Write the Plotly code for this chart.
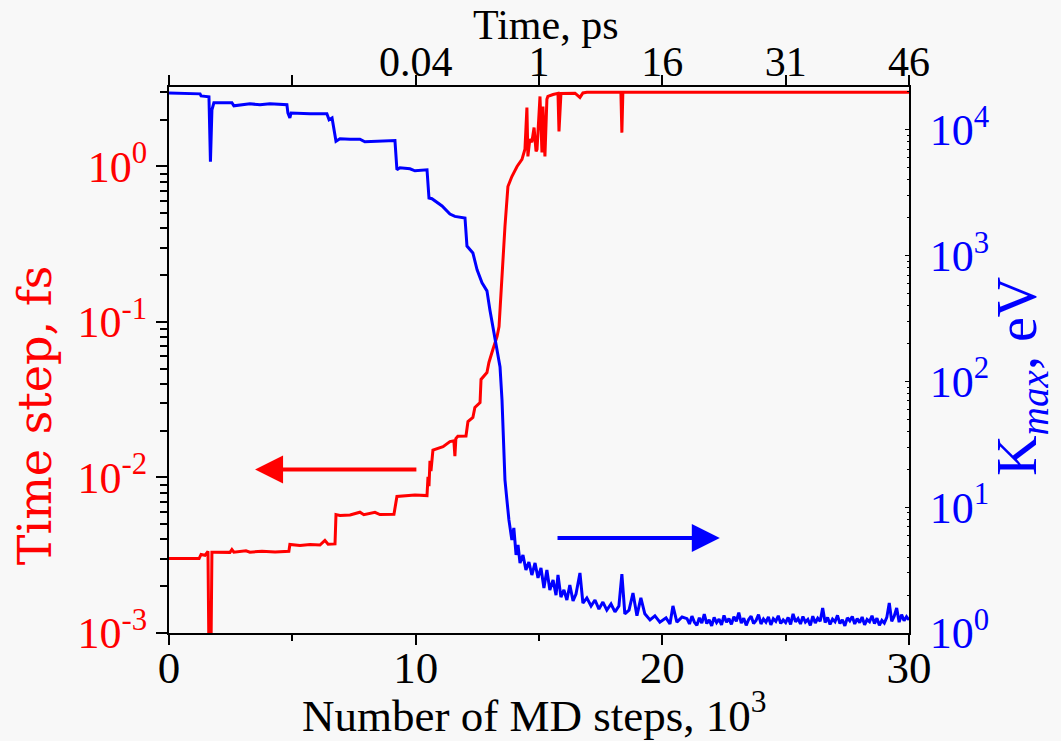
import plotly.graph_objects as go
import math

# ---- data (steps in thousands) ----
red_x = [0, 1.22, 1.30, 1.46, 1.58, 1.62, 1.70, 1.74, 1.82, 2.47, 2.55, 2.63, 3.12, 3.28, 3.77, 4.30,
         4.86, 4.90, 5.31, 5.72, 6.12, 6.32, 6.45, 6.73, 6.77, 6.93, 7.34, 7.74, 7.90, 8.35, 8.55, 9.12,
         9.24, 9.57, 9.97, 10.46, 10.50, 10.54, 10.58, 10.62, 10.70, 11.11, 11.39, 11.55, 11.59, 11.63,
         11.71, 12.04, 12.12, 12.32, 12.40, 12.61, 12.65, 12.89, 12.97, 13.13, 13.30, 13.38, 13.46, 13.54,
         13.62, 13.74, 13.90, 14.11, 14.31, 14.43, 14.51, 14.55, 14.63, 14.71, 14.80, 14.88, 14.92, 15.04,
         15.12, 15.16, 15.24, 15.32, 15.36, 15.57, 15.77, 15.81, 15.89, 16.46, 16.66, 16.78, 16.94, 18.32,
         18.36, 18.40, 30.0]
red_dt = [0.00301, 0.00301, 0.00320, 0.00316, 0.00335, 0.0007, 0.0007, 0.00331, 0.00331, 0.00330, 0.00344, 0.00331, 0.00338, 0.00331, 0.00336, 0.00332,
          0.00335, 0.00371, 0.00366, 0.00371, 0.00368, 0.00394, 0.00372, 0.00374, 0.00578, 0.00570, 0.00574, 0.00598, 0.00576, 0.00597, 0.00578, 0.00580,
          0.00755, 0.00762, 0.00772, 0.00765, 0.0101, 0.0088, 0.0128, 0.0110, 0.0150, 0.0158, 0.0170, 0.0172, 0.0137, 0.0178,
          0.0184, 0.0185, 0.0229, 0.0243, 0.0282, 0.0303, 0.0427, 0.0473, 0.0549, 0.0665, 0.0807, 0.0935, 0.155, 0.228,
          0.411, 0.743, 0.862, 1.0, 1.11, 1.29, 2.39, 1.16, 1.50, 1.43, 1.78, 1.25, 1.29, 2.82,
          1.23, 2.43, 1.16, 2.70, 2.82, 2.90, 2.95, 1.68, 2.95, 2.96, 2.78, 2.97, 3.0, 3.0,
          1.65, 3.0, 3.0]

blue_x = [0, 1.26, 1.30, 1.62, 1.68, 1.74, 1.82, 2.55, 2.63, 2.88, 3.28, 3.69, 4.09, 4.78, 4.82, 4.90,
          4.95, 5.72, 6.12, 6.40, 6.49, 6.61, 6.77, 6.93, 7.34, 7.74, 7.94, 8.55, 9.16, 9.24, 9.36, 9.77,
          9.97, 10.46, 10.54, 10.66, 11.07, 11.39, 11.59, 12.00, 12.08, 12.32, 12.49, 12.69, 12.89, 13.01,
          13.21, 13.42, 13.50, 13.54, 13.62, 13.70, 13.78, 13.90, 13.98, 14.07, 14.15, 14.23, 14.35, 14.47,
          14.59, 14.71, 14.84, 14.96, 15.08, 15.20, 15.32, 15.44, 15.57, 15.69, 15.77, 15.89, 16.01, 16.13,
          16.25, 16.38, 16.50, 16.66, 16.78, 16.94, 17.11, 17.27, 17.43, 17.59, 17.75, 17.92, 18.08, 18.24,
          18.36, 18.48, 18.65, 18.81, 18.97, 19.13, 19.29, 19.50, 19.70, 19.90, 20.15, 20.31, 20.43, 20.59,
          20.80,
          21.0, 21.1, 21.2, 21.3, 21.4, 21.5, 21.6, 21.7, 21.8, 21.9, 22.0, 22.1, 22.2, 22.3, 22.4, 22.5,
          22.6, 22.7, 22.8, 22.9, 23.0, 23.1, 23.2, 23.3, 23.4, 23.5, 23.6, 23.7, 23.8, 23.9, 24.0, 24.1,
          24.2, 24.3, 24.4, 24.5, 24.6, 24.7, 24.8, 24.9, 25.0, 25.1, 25.2, 25.3, 25.4, 25.5, 25.6, 25.7,
          25.8, 25.9, 26.0, 26.1, 26.2, 26.3, 26.4, 26.5, 26.6, 26.7, 26.8, 26.9, 27.0, 27.1, 27.2, 27.3,
          27.4, 27.5, 27.6, 27.7, 27.8, 27.9, 28.0, 28.1, 28.2, 28.3, 28.4, 28.5, 28.6, 28.7, 28.8, 28.9,
          29.0, 29.1, 29.2, 29.3, 29.4, 29.5, 29.6, 29.7, 29.8, 29.9, 30.0]
blue_k = [19600, 19300, 18600, 18300, 5570, 14400, 16400, 16400, 15500, 15800, 16100, 15800, 16100, 15800, 13600, 12400,
          13600, 13400, 13500, 13400, 12000, 12400, 8110, 8480, 8400, 8420, 8030, 8110, 8200, 4810, 4990, 4900,
          4720, 4810, 2870, 2830, 2480, 2140, 2050, 1990, 1190, 1050, 771, 607, 524, 370,
          226, 130, 71.3, 38.9, 16.5, 11.4, 7.92, 5.49, 6.84, 4.17, 5.01, 3.60, 4.17, 3.17,
          3.67, 2.89, 3.60, 2.74, 3.29, 2.28, 3.17, 2.20, 2.64, 2.00, 2.89, 1.93, 2.20, 1.83,
          2.41, 1.80, 2.04, 3.0, 1.73, 1.90, 1.64, 1.83, 1.55, 1.76, 1.52, 1.70, 1.47, 1.64,
          2.94, 1.42, 1.52, 2.08, 1.37, 1.90, 1.42, 1.27, 1.37, 1.22, 1.32, 1.18, 1.64, 1.22,
          1.34,
          1.30, 1.18, 1.36, 1.22, 1.15, 1.32, 1.20, 1.41, 1.19, 1.27, 1.14, 1.33, 1.21, 1.29, 1.16, 1.38,
          1.22, 1.30, 1.17, 1.35, 1.24, 1.45, 1.20, 1.31, 1.15, 1.28, 1.36, 1.19, 1.26, 1.40, 1.18, 1.29,
          1.22, 1.34, 1.16, 1.30, 1.24, 1.37, 1.19, 1.27, 1.21, 1.33, 1.17, 1.42, 1.23, 1.30, 1.18, 1.35,
          1.22, 1.28, 1.15, 1.36, 1.20, 1.31, 1.24, 1.58, 1.21, 1.33, 1.17, 1.29, 1.23, 1.38, 1.19, 1.27,
          1.14, 1.32, 1.25, 1.35, 1.18, 1.30, 1.21, 1.34, 1.16, 1.28, 1.23, 1.37, 1.19, 1.31, 1.15, 1.26,
          1.20, 1.33, 1.73, 1.24, 1.36, 1.58, 1.22, 1.40, 1.25, 1.35, 1.27]

# tick labels
steps_ticks = [0, 10, 20, 30]
steps_minor = [5, 15, 25]
time_tick_pos = [0, 5, 10, 15, 20, 25, 30]
time_tick_labels = ["", "", "0.04", "1", "16", "31", "46"]
dt_ticks = [1e-3, 1e-2, 1e-1, 1]
dt_labels = ["10<sup>-3</sup>", "10<sup>-2</sup>", "10<sup>-1</sup>", "10<sup>0</sup>"]
k_ticks = [1, 10, 100, 1000, 10000]
k_labels = ["10<sup>0</sup>", "10<sup>1</sup>", "10<sup>2</sup>", "10<sup>3</sup>", "10<sup>4</sup>"]

RED = "#ff0000"
BLUE = "#0000ff"
SERIF = "Liberation Serif"
WIDE = "DejaVu Serif"

dt_minor = [m * d for d in [1e-3, 1e-2, 1e-1, 1] for m in range(2, 10) if m * d <= 3.3]
k_minor = [m * d for d in [1, 10, 100, 1000, 10000] for m in range(2, 10) if m * d <= 21000]

fig = go.Figure()
fig.add_trace(go.Scatter(x=red_x, y=red_dt, mode="lines", line=dict(color=RED, width=3),
                         xaxis="x", yaxis="y", showlegend=False))
fig.add_trace(go.Scatter(x=blue_x, y=blue_k, mode="lines", line=dict(color=BLUE, width=3),
                         xaxis="x", yaxis="y2", showlegend=False))
# invisible trace to activate top axis
fig.add_trace(go.Scatter(x=[0, 30], y=[1, 1], mode="lines", line=dict(width=0), opacity=0,
                         xaxis="x2", yaxis="y", showlegend=False, hoverinfo="skip"))

axline = dict(showline=True, linecolor="black", linewidth=2, showgrid=False, zeroline=False, automargin=False)

fig.update_layout(
    width=1061, height=741,
    paper_bgcolor="#f8f8f8", plot_bgcolor="#f8f8f8",
    margin=dict(l=169, r=152, t=87, b=108),
    font=dict(family=SERIF, color="black"),
    xaxis=dict(range=[0, 30], tickmode="array", tickvals=steps_ticks,
               ticks="outside", ticklen=10, tickwidth=2, tickcolor="black",
               minor=dict(tickmode="array", tickvals=steps_minor, ticks="outside", ticklen=6, tickwidth=2, tickcolor="black"),
               tickfont=dict(family=SERIF, size=45, color="black"), ticklabelstandoff=-16,
               anchor="y", **axline),
    xaxis2=dict(range=[0, 30], overlaying="x", side="top", anchor="y", tickmode="array",
                tickvals=time_tick_pos, ticktext=time_tick_labels,
                ticks="outside", ticklen=10, tickwidth=2, tickcolor="black",
                tickfont=dict(family=SERIF, size=42, color="black"), ticklabelstandoff=-18,
                **axline),
    yaxis=dict(type="log", range=[-3, 0.511], tickmode="array", tickvals=dt_ticks, ticktext=dt_labels,
               ticks="outside", ticklen=11, tickwidth=2, tickcolor="black",
               minor=dict(tickmode="array", tickvals=dt_minor, ticks="outside", ticklen=7, tickwidth=2, tickcolor="black"),
               tickfont=dict(family=SERIF, size=44, color=RED),
               anchor="x", **axline),
    yaxis2=dict(type="log", range=[0, 4.34], overlaying="y", side="right", anchor="x",
                tickmode="array", tickvals=k_ticks, ticktext=k_labels,
                ticks="inside", ticklen=4, tickwidth=1, tickcolor="black",
                minor=dict(tickmode="array", tickvals=k_minor, ticks="inside", ticklen=2, tickwidth=1, tickcolor="black"),
                tickfont=dict(family=SERIF, size=44, color=BLUE), ticklabelstandoff=10,
                **axline),
)

# axis titles
fig.add_annotation(text="Number of MD steps, 10<sup>3</sup>", xref="paper", yref="paper", x=0.493, y=-0.145,
                   xanchor="center", yanchor="middle", showarrow=False,
                   font=dict(family=SERIF, size=45, color="black"))
fig.add_annotation(text="Time, ps", xref="paper", yref="paper", x=0.509, y=1.113,
                   xanchor="center", yanchor="middle", showarrow=False,
                   font=dict(family=SERIF, size=42, color="black"))
fig.add_annotation(text="Time step, fs", xref="paper", yref="paper", x=-0.181, y=0.399,
                   xanchor="center", yanchor="middle", showarrow=False, textangle=-90,
                   font=dict(family=WIDE, size=46, color=RED))
fig.add_annotation(text="K<sub><i>max</i></sub>, eV", xref="paper", yref="paper", x=1.152, y=0.47,
                   xanchor="center", yanchor="middle", showarrow=False, textangle=-90,
                   font=dict(family=SERIF, size=56, color=BLUE))

# direction arrows
fig.add_annotation(x=3.49, y=math.log10(0.01125), ax=10.09, ay=math.log10(0.01125),
                   xref="x", yref="y", axref="x", ayref="y", text="", showarrow=True,
                   arrowhead=2, arrowsize=1.4, arrowwidth=4, arrowcolor=RED)
fig.add_annotation(x=22.33, y=math.log10(5.69), ax=15.69, ay=math.log10(5.69),
                   xref="x", yref="y2", axref="x", ayref="y2", text="", showarrow=True,
                   arrowhead=2, arrowsize=1.4, arrowwidth=4, arrowcolor=BLUE)

fig.write_html("out.html")
